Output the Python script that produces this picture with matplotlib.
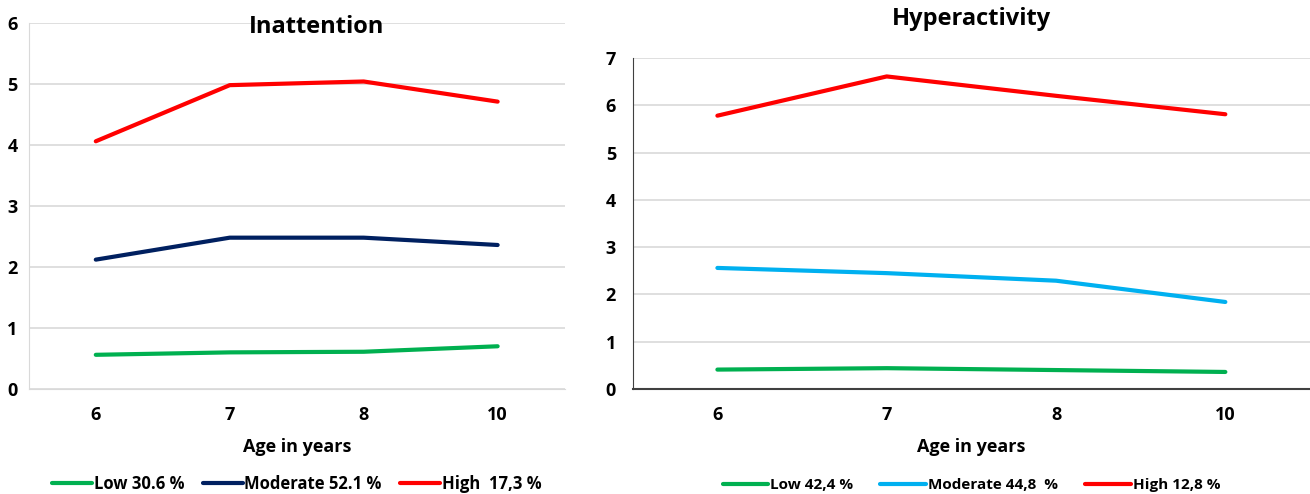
import matplotlib.pyplot as plt

plt.rcParams['font.family'] = ['Open Sans', 'DejaVu Sans']

ages = ['6', '7', '8', '10']

# Inattention
inat_low = [0.56, 0.60, 0.61, 0.70]
inat_mod = [2.12, 2.48, 2.48, 2.36]
inat_high = [4.06, 4.98, 5.04, 4.71]
inat_labels = ['Low 30.6 %', 'Moderate 52.1 %', 'High  17,3 %']

# Hyperactivity
hyp_low = [0.41, 0.44, 0.40, 0.36]
hyp_mod = [2.56, 2.45, 2.29, 1.84]
hyp_high = [5.78, 6.61, 6.20, 5.81]
hyp_labels = ['Low 42,4 %', 'Moderate 44,8  %', 'High 12,8 %']

green = '#00B050'
navy = '#002060'
red = '#FF0000'
cyan = '#00B0F0'

fig = plt.figure(figsize=(13.1, 4.94), dpi=100)
ax1 = fig.add_axes([0.022, 0.2126, 0.409, 0.741])
ax2 = fig.add_axes([0.483, 0.2126, 0.517, 0.67])

x = list(range(len(ages)))


def style(ax, ymax):
    ax.set_xlim(-0.5, len(ages) - 0.5)
    ax.set_ylim(0, ymax)
    ax.set_yticks(range(ymax + 1))
    ax.set_xticks(x)
    ax.set_xticklabels(ages)
    ax.grid(axis='y', color='#D9D9D9', linewidth=1.2)
    ax.set_axisbelow(True)
    ax.tick_params(length=0, labelsize=13)
    ax.tick_params(axis='x', pad=12)
    for lab in ax.get_xticklabels() + ax.get_yticklabels():
        lab.set_fontweight('bold')
    ax.spines['top'].set_visible(False)
    ax.spines['right'].set_visible(False)
    ax.set_xlabel('Age in years', fontsize=13, fontweight='bold', labelpad=10)


lw = 3
ax1.plot(x, inat_low, color=green, lw=lw, label=inat_labels[0], solid_capstyle='round')
ax1.plot(x, inat_mod, color=navy, lw=lw, label=inat_labels[1], solid_capstyle='round')
ax1.plot(x, inat_high, color=red, lw=lw, label=inat_labels[2], solid_capstyle='round')
style(ax1, 6)
ax1.spines['left'].set_color('#D9D9D9')
ax1.spines['bottom'].set_color('#D9D9D9')
ax1.tick_params(axis='y', pad=8)
ax1.set_title('Inattention', fontsize=17, fontweight='bold', x=0.537, y=0.95)
ax1.legend(loc='center', bbox_to_anchor=(0.5, -0.26), ncol=3, frameon=False,
           prop={'size': 12, 'weight': 'bold'}, handlelength=2.4, columnspacing=1.1,
           handletextpad=0.1)

ax2.plot(x, hyp_low, color=green, lw=lw, label=hyp_labels[0], solid_capstyle='round')
ax2.plot(x, hyp_mod, color=cyan, lw=lw, label=hyp_labels[1], solid_capstyle='round')
ax2.plot(x, hyp_high, color=red, lw=lw, label=hyp_labels[2], solid_capstyle='round')
style(ax2, 7)
ax2.spines['left'].set_color('#404040')
ax2.spines['bottom'].set_color('#404040')
ax2.spines['bottom'].set_linewidth(1.5)
ax2.tick_params(axis='y', pad=12)
ax2.set_title('Hyperactivity', fontsize=17, fontweight='bold', pad=24)
ax2.legend(loc='center', bbox_to_anchor=(0.5, -0.29), ncol=3, frameon=False,
           prop={'size': 11, 'weight': 'bold'}, handlelength=3, columnspacing=1.8,
           handletextpad=0.1)

fig.savefig('out.png', dpi=100)
